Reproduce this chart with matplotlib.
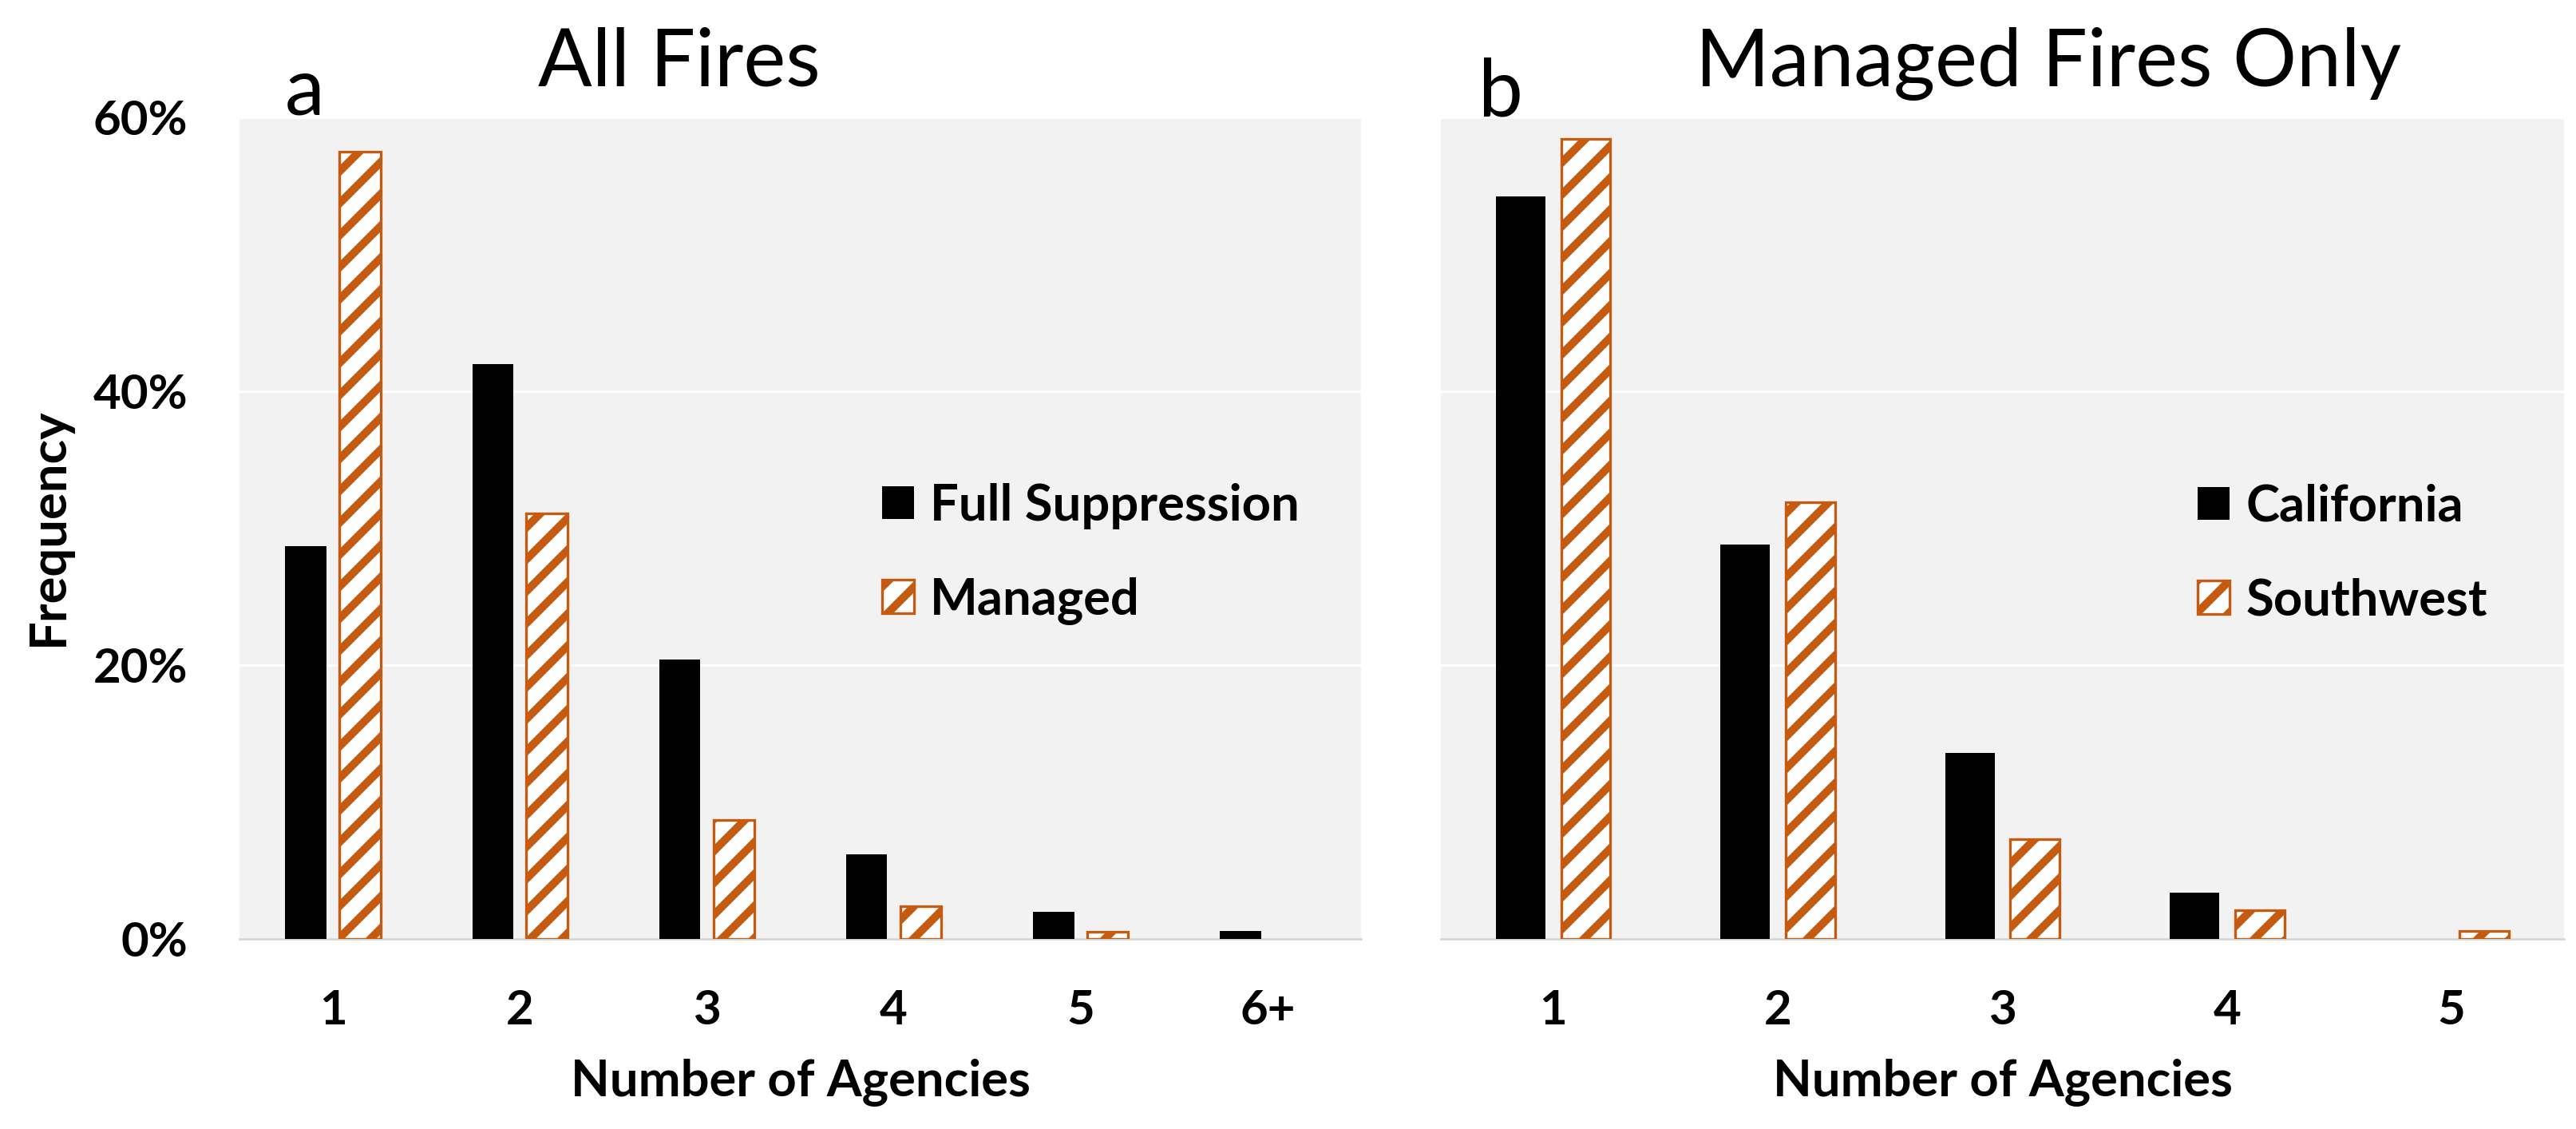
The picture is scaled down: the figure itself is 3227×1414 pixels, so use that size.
import matplotlib
matplotlib.use('Agg')
import matplotlib.pyplot as plt
from matplotlib.ticker import PercentFormatter

# data (fractions)
cats_a = ['1', '2', '3', '4', '5', '6+']
full_supp = [0.287, 0.420, 0.204, 0.062, 0.020, 0.006]
managed = [0.575, 0.311, 0.087, 0.024, 0.005, 0.0]

cats_b = ['1', '2', '3', '4', '5']
california = [0.542, 0.288, 0.136, 0.034, 0.0]
southwest = [0.584, 0.319, 0.073, 0.021, 0.006]

W, H = 3227, 1414
DPI = 240
ORANGE = '#c55a11'
BG = '#f2f2f2'
FONT = 'Lato'

plt.rcParams['font.family'] = FONT
plt.rcParams['hatch.linewidth'] = 3.0

fig = plt.figure(figsize=(W / DPI, H / DPI), dpi=DPI)
fig.patch.set_facecolor('white')

bottom = 1 - 1176 / H
height = 1029 / H
ax1 = fig.add_axes([300 / W, bottom, 1405 / W, height])
ax2 = fig.add_axes([1805 / W, bottom, 1407 / W, height])

bw = 0.22
off = 0.145


def draw(ax, cats, s1, s2, lab1, lab2, leg_x):
    x = range(len(cats))
    b1 = ax.bar([i - off for i in x], s1, width=bw, color='black', label=lab1, zorder=3)
    # zero-height bars get no outline so nothing shows
    lw = [1.0 if v > 0 else 0 for v in s2]
    b2 = ax.bar([i + off for i in x], s2, width=bw, facecolor='white', edgecolor=ORANGE,
                hatch='//', linewidth=lw, label=lab2, zorder=3)
    ax.set_facecolor(BG)
    ax.set_xlim(-0.5, len(cats) - 0.5)
    ax.set_ylim(0, 0.6)
    ax.set_xticks(list(x))
    ax.set_xticklabels(cats)
    ax.set_yticks([0, 0.2, 0.4, 0.6])
    ax.yaxis.set_major_formatter(PercentFormatter(1.0, decimals=0))
    ax.grid(axis='y', color='white', linewidth=0.9)
    ax.set_axisbelow(True)
    for s in ['top', 'left', 'right']:
        ax.spines[s].set_visible(False)
    ax.spines['bottom'].set_color('#d4d4d4')
    ax.spines['bottom'].set_linewidth(0.8)
    ax.tick_params(axis='both', length=0, labelsize=18)
    ax.tick_params(axis='x', pad=19)
    ax.tick_params(axis='y', pad=19.5)
    for t in ax.get_xticklabels() + ax.get_yticklabels():
        t.set_fontweight('bold')
    ax.set_xlabel('Number of Agencies', fontsize=19, fontweight='bold')
    ax.xaxis.set_label_coords(0.5, -0.145)
    leg = ax.legend(handles=[b1, b2], loc='center left', bbox_to_anchor=(leg_x / W, 1 - 693.5 / H),
                    bbox_transform=fig.transFigure, frameon=False, borderpad=0, borderaxespad=0,
                    handlelength=0.63, handleheight=0.63, handletextpad=0.32, labelspacing=0.94,
                    prop={'family': FONT, 'weight': 'bold', 'size': 19})
    leg.legend_handles[1].set_linewidth(1.0)


draw(ax1, cats_a, full_supp, managed, 'Full Suppression', 'Managed', 1105)
draw(ax2, cats_b, california, southwest, 'California', 'Southwest', 2753)
ax2.set_yticklabels([])

fig.text(851 / W, 1 - 108 / H, 'All Fires', ha='center', va='baseline', fontsize=30)
fig.text(2566 / W, 1 - 108 / H, 'Managed Fires Only', ha='center', va='baseline', fontsize=30)
fig.text(357 / W, 1 - 144 / H, 'a', ha='left', va='baseline', fontsize=30)
fig.text(1852 / W, 1 - 146 / H, 'b', ha='left', va='baseline', fontsize=30)
fig.text(61 / W, 1 - 660 / H, 'Frequency', rotation=90, ha='center', va='center',
         fontsize=19, fontweight='bold')

fig.savefig('out.png', dpi=DPI, facecolor='white')
